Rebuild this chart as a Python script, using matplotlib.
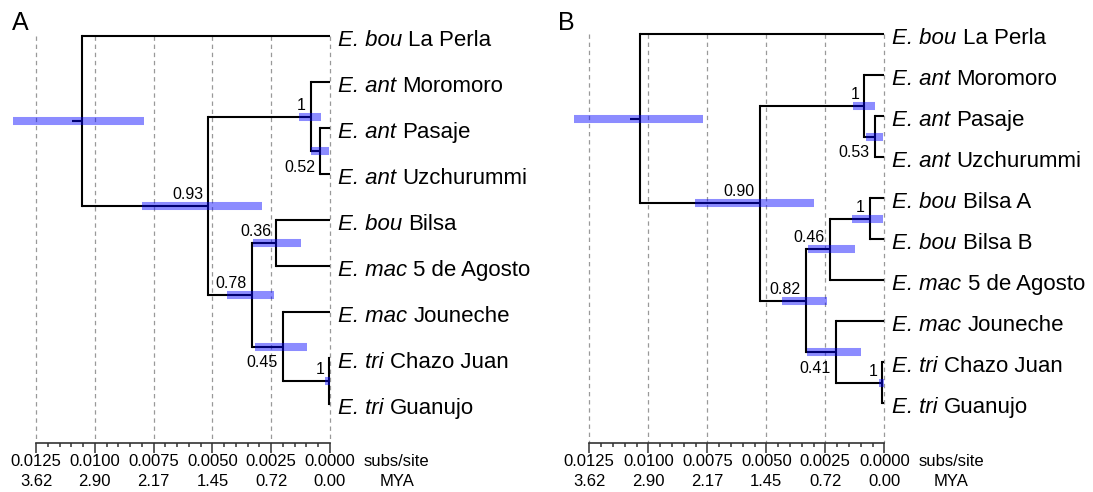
import numpy as np
import matplotlib
matplotlib.use("Agg")
import matplotlib.pyplot as plt

plt.rcParams["font.family"] = ["Liberation Sans", "DejaVu Sans"]

# ---- panel A (tips listed top to bottom) ----
species_A = ["bou", "ant", "ant", "ant", "bou", "mac", "mac", "tri", "tri"]
sites_A = ["La Perla", "Moromoro", "Pasaje", "Uzchurummi", "Bilsa",
           "5 de Agosto", "Jouneche", "Chazo Juan", "Guanujo"]
# internal nodes: children are tip indices (int) or node names (str)
nodes_A = ["root", "n1", "ant", "pu", "n2", "n3", "n4", "tri"]
children_A = [[0, "n1"], ["ant", "n2"], [1, "pu"], [2, 3],
              ["n3", "n4"], [4, 5], [6, "tri"], [7, 8]]
height_A = [0.01054, 0.00517, 0.00082, 0.00043, 0.00333, 0.00228, 0.00201, 0.00003]
hpd_old_A = [0.01349, 0.00801, 0.00132, 0.00082, 0.00438, 0.00329, 0.00319, 0.00021]
hpd_young_A = [0.00790, 0.00290, 0.00040, 0.00004, 0.00238, 0.00123, 0.00097, 0.0]
support_A = ["", "0.93", "1", "0.52", "0.78", "0.36", "0.45", "1"]

# ---- panel B ----
species_B = ["bou", "ant", "ant", "ant", "bou", "bou", "mac", "mac", "tri", "tri"]
sites_B = ["La Perla", "Moromoro", "Pasaje", "Uzchurummi", "Bilsa A", "Bilsa B",
           "5 de Agosto", "Jouneche", "Chazo Juan", "Guanujo"]
nodes_B = ["root", "n1", "ant", "pu", "n2", "n3", "bil", "n4", "tri"]
children_B = [[0, "n1"], ["ant", "n2"], [1, "pu"], [2, 3],
              ["n3", "n4"], ["bil", 6], [4, 5], [7, "tri"], [8, 9]]
height_B = [0.01035, 0.00527, 0.00085, 0.00041, 0.00332, 0.00230, 0.00061, 0.00206, 0.00008]
hpd_old_B = [0.01314, 0.00802, 0.00134, 0.00079, 0.00432, 0.00325, 0.00136, 0.00326, 0.00021]
hpd_young_B = [0.00770, 0.00298, 0.00039, 0.00004, 0.00242, 0.00124, 0.00004, 0.00100, 0.00001]
support_B = ["", "0.90", "1", "0.53", "0.82", "0.46", "1", "0.41", "1"]

root_edge = 0.00042
scale_ticks = [0.0125, 0.0100, 0.0075, 0.0050, 0.0025, 0.0]
scale_labels = ["0.0125", "0.0100", "0.0075", "0.0050", "0.0025", "0.0000"]
mya_labels = ["3.62", "2.90", "2.17", "1.45", "0.72", "0.00"]

# labels that sit under their node instead of above
below_nodes = ["pu", "n4"]

W, H = 1093, 492
fig = plt.figure(figsize=(W / 100, H / 100), dpi=100)
axis_px = 443.3


def draw_panel(left_px, right_px, x0_px, xz_px, top_px, step_px, letter,
               species, sites, nodes, children, heights, old, young, support):
    ax = fig.add_axes([left_px / W, 1 - axis_px / H,
                       (right_px - left_px) / W, axis_px / H])
    per = (xz_px - x0_px) / 0.0125
    ax.set_xlim(0.0125 + (x0_px - left_px) / per, -(right_px - xz_px) / per)
    ax.set_ylim((axis_px - top_px) / step_px, -top_px / step_px)

    ypos = {}
    def y_of(c):
        return c if isinstance(c, int) else ypos[c]
    for name, ch in reversed(list(zip(nodes, children))):
        ypos[name] = np.mean([y_of(c) for c in ch])
    node_h = dict(zip(nodes, heights))
    def h_of(c):
        return 0.0 if isinstance(c, int) else node_h[c]

    # grid lines
    ax.vlines(scale_ticks, 0, ax.get_ylim()[0], color="#999999", lw=0.9,
              linestyles=(0, (3.5, 3)), zorder=0)

    for name, ch in zip(nodes, children):
        h = node_h[name]
        ys = [y_of(c) for c in ch]
        ax.plot([h, h], [min(ys), max(ys)], color="black", lw=1.5,
                solid_capstyle="projecting", zorder=2)
        for c in ch:
            ax.plot([h, h_of(c)], [y_of(c)] * 2, color="black", lw=1.5,
                    solid_capstyle="butt", zorder=2)
    ax.plot([heights[0] + root_edge, heights[0]], [ypos["root"]] * 2,
            color="black", lw=1.5, solid_capstyle="butt", zorder=2)

    # 95% HPD bars
    ax.hlines([ypos[n] for n in nodes], young, old, color="blue", alpha=0.45,
              lw=5.8, zorder=3)

    for name, s in zip(nodes, support):
        if not s:
            continue
        dy = -15 if name in below_nodes else 5
        ax.annotate(s, (node_h[name], ypos[name]), xytext=(-3.6, dy),
                    textcoords="offset points", ha="right", va="baseline",
                    fontsize=11.5)

    for i, (sp, site) in enumerate(zip(species, sites)):
        t1 = ax.annotate("E. " + sp, (0, i), xytext=(5.8, -7.2),
                         textcoords="offset points", ha="left",
                         va="baseline", fontsize=16, style="italic")
        ax.annotate(site, (1, 0), xycoords=t1, xytext=(4.4, 0),
                    textcoords="offset points", ha="left", va="bottom",
                    fontsize=16)

    for side in ["top", "left", "right"]:
        ax.spines[side].set_visible(False)
    ax.spines["bottom"].set_bounds(0.0125, 0.0)
    ax.spines["bottom"].set_color("#333333")
    ax.spines["bottom"].set_linewidth(1.2)
    ax.set_yticks([])
    ax.set_xticks(scale_ticks)
    ax.set_xticklabels([a + "\n" + b for a, b in zip(scale_labels, mya_labels)])
    ax.set_xticks(np.arange(0.0, 0.01251, 0.0005), minor=True)
    ax.tick_params(axis="x", which="major", length=7.2, width=1.1,
                   color="#333333", labelsize=12, pad=0.8)
    ax.tick_params(axis="x", which="minor", length=2.8, width=1.1,
                   color="#333333")
    for lbl in ax.get_xticklabels():
        lbl.set_linespacing(1.4)
    ax.annotate("subs/site\nMYA", (0.0, 0), xycoords=ax.get_xaxis_transform(),
                xytext=(48, -8.0), textcoords="offset points", ha="center",
                va="top", fontsize=12, linespacing=1.4)
    ax.set_facecolor("none")

    fig.text((left_px + 11.7) / W, 1 - 29.5 / H, letter, ha="left",
             va="baseline", fontsize=18)
    return ax


draw_panel(0, 546, 36, 330, 36, 46, "A", species_A, sites_A, nodes_A,
           children_A, height_A, hpd_old_A, hpd_young_A, support_A)
draw_panel(546, 1093, 589.3, 884.3, 34, 41, "B", species_B, sites_B, nodes_B,
           children_B, height_B, hpd_old_B, hpd_young_B, support_B)

fig.savefig("out.png", dpi=100)
